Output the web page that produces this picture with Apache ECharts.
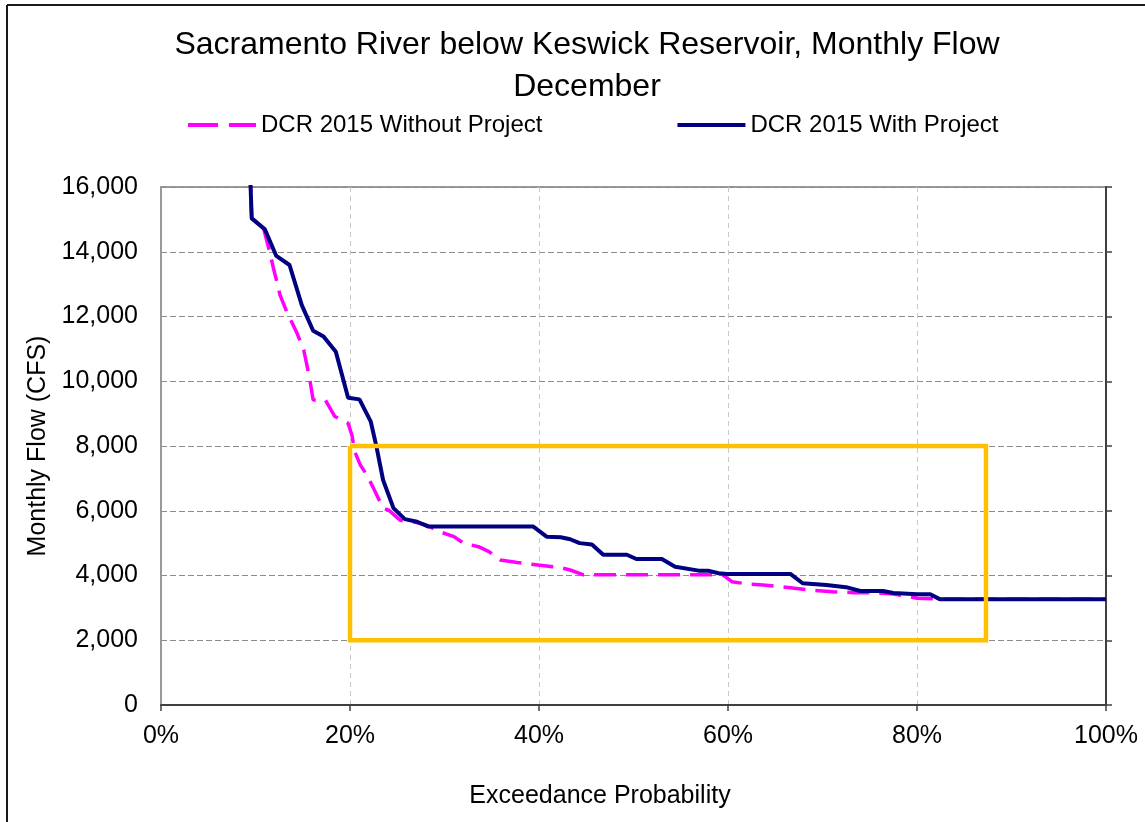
<!DOCTYPE html>
<html>
<head>
<meta charset="utf-8">
<script src="https://cdn.jsdelivr.net/npm/echarts@6/dist/echarts.min.js"></script>
<style>
  html, body { margin: 0; padding: 0; background: #fff; }
  #chart { width: 1145px; height: 822px; }
</style>
</head>
<body>
<div id="chart"></div>
<script>
// Exceedance probability (%) and monthly flow (CFS), December
const withoutProjectX = [9.3, 9.6, 10.8, 11.5, 11.9, 12.6, 13.3, 14.4, 15.1, 15.7, 16.1, 17.4, 18.4, 19.8, 20.2, 20.5, 21.1, 21.8, 22.5, 23.5, 24.1, 25.3, 26.7, 28.1, 29.5, 31.0, 32.0, 33.6, 34.7, 35.9, 37.7, 40.1, 42.2, 43.3, 44.7, 58.3, 59.5, 60.4, 62.0, 63.7, 66.6, 68.7, 71.1, 73.3, 75.4, 77.5, 80.0, 81.7, 82.4, 100];
const withoutProjectY = [17500, 15030, 14780, 14000, 13490, 12660, 12150, 11480, 10970, 10140, 9420, 9420, 8910, 8700, 8340, 7830, 7410, 7100, 6690, 6080, 6020, 5710, 5660, 5560, 5350, 5200, 5000, 4890, 4740, 4480, 4400, 4320, 4250, 4170, 4020, 4020, 4010, 3810, 3740, 3710, 3620, 3550, 3500, 3470, 3470, 3430, 3300, 3280, 3270, 3270];

const withProjectX = [9.3, 9.6, 11.0, 12.2, 13.6, 14.9, 16.1, 17.2, 18.5, 19.8, 21.0, 22.2, 22.8, 23.5, 24.6, 25.8, 27.1, 28.3, 39.4, 40.8, 42.3, 43.3, 44.3, 45.6, 46.8, 49.3, 50.3, 53.0, 54.4, 56.9, 57.9, 59.0, 59.9, 66.6, 67.9, 70.4, 72.5, 74.0, 76.4, 77.5, 80.0, 81.4, 82.4, 100];
const withProjectY = [17500, 15030, 14690, 13870, 13590, 12350, 11560, 11380, 10910, 9490, 9440, 8750, 7980, 6950, 6080, 5740, 5660, 5510, 5510, 5200, 5180, 5120, 5000, 4960, 4640, 4640, 4510, 4510, 4270, 4150, 4150, 4070, 4050, 4050, 3760, 3710, 3640, 3520, 3520, 3460, 3420, 3420, 3270, 3270];

// Highlight box: probability range and flow range
const boxX = [20, 87.3];
const boxY = [2000, 8000];

const xTicks = [0, 20, 40, 60, 80, 100];
const yTicks = [0, 2000, 4000, 6000, 8000, 10000, 12000, 14000, 16000];

const seriesNames = ['DCR 2015 Without Project', 'DCR 2015 With Project'];

const zip = (xs, ys) => xs.map((x, i) => [x, ys[i]]);
const boxPath = [
  [boxX[0], boxY[1]], [boxX[1], boxY[1]], [boxX[1], boxY[0]],
  [boxX[0], boxY[0]], [boxX[0], boxY[1]]
];

const FONT = '"Liberation Sans", Arial, sans-serif';
const chart = echarts.init(document.getElementById('chart'));

chart.setOption({
  backgroundColor: '#ffffff',
  animation: false,
  textStyle: { fontFamily: FONT, color: '#000' },
  title: {
    text: 'Sacramento River below Keswick Reservoir, Monthly Flow\nDecember',
    left: 582,
    textAlign: 'center',
    top: 19,
    textStyle: { fontFamily: FONT, fontSize: 32, fontWeight: 'normal', color: '#000', lineHeight: 42 }
  },
  legend: {
    left: 181,
    top: 108,
    itemWidth: 68,
    itemHeight: 14,
    itemGap: 133,
    itemStyle: { opacity: 0 },
    textStyle: { fontFamily: FONT, fontSize: 24, color: '#000' },
    data: [
      { name: seriesNames[0], lineStyle: { type: [30, 11], width: 4 } },
      { name: seriesNames[1], lineStyle: { width: 4 } }
    ]
  },
  grid: {
    left: 161, right: 39, top: 187, bottom: 117,
    show: true, borderColor: '#9a9a9a', borderWidth: 2
  },
  xAxis: {
    type: 'value',
    min: xTicks[0], max: xTicks[xTicks.length - 1], interval: 20,
    name: 'Exceedance Probability',
    nameLocation: 'middle',
    nameGap: 79,
    nameTextStyle: { fontFamily: FONT, fontSize: 25, color: '#000', padding: [0, 67, 0, 0] },
    axisLine: { show: true, lineStyle: { color: '#404040', width: 2 } },
    axisTick: { show: true, length: 6, lineStyle: { color: '#404040', width: 1.5 } },
    axisLabel: { fontFamily: FONT, fontSize: 25, color: '#000', margin: 19, formatter: '{value}%' },
    splitLine: { show: true, lineStyle: { color: '#c8c8c8', type: [5, 4], width: 1 } }
  },
  yAxis: [
    {
      type: 'value',
      min: yTicks[0], max: yTicks[yTicks.length - 1], interval: 2000,
      name: 'Monthly Flow (CFS)',
      nameLocation: 'middle',
      nameGap: 96,
      nameTextStyle: { fontFamily: FONT, fontSize: 25, color: '#000' },
      axisLine: { show: true, lineStyle: { color: '#9a9a9a', width: 2 } },
      axisTick: { show: false },
      axisLabel: {
        fontFamily: FONT, fontSize: 25, color: '#000', margin: 23,
        formatter: v => v.toLocaleString('en-US')
      },
      splitLine: { show: true, lineStyle: { color: '#8c8c8c', type: [6, 3], width: 1 } }
    },
    {
      type: 'value',
      position: 'right',
      min: yTicks[0], max: yTicks[yTicks.length - 1], interval: 2000,
      axisLine: { show: true, lineStyle: { color: '#404040', width: 2 } },
      axisTick: { show: true, length: 6, lineStyle: { color: '#404040', width: 1.5 } },
      axisLabel: { show: false },
      splitLine: { show: false }
    }
  ],
  series: [
    {
      name: seriesNames[0],
      type: 'line',
      data: zip(withoutProjectX, withoutProjectY),
      symbol: 'none',
      clip: true,
      z: 2,
      lineStyle: { color: '#ff00ff', width: 3.5, type: [22, 10] },
      itemStyle: { color: '#ff00ff' }
    },
    {
      name: seriesNames[1],
      type: 'line',
      data: zip(withProjectX, withProjectY),
      symbol: 'none',
      clip: true,
      z: 3,
      lineStyle: { color: '#000080', width: 4 },
      itemStyle: { color: '#000080' }
    },
    {
      name: 'box',
      type: 'line',
      data: boxPath,
      symbol: 'none',
      z: 4,
      silent: true,
      legendHoverLink: false,
      lineStyle: { color: '#ffc000', width: 4.5, join: 'miter' },
      itemStyle: { color: '#ffc000' }
    }
  ],
  graphic: [
    { type: 'line', shape: { x1: 7, y1: 5, x2: 1145, y2: 5 }, style: { stroke: '#1a1a1a', lineWidth: 2 } },
    { type: 'line', shape: { x1: 7, y1: 5, x2: 7, y2: 822 }, style: { stroke: '#1a1a1a', lineWidth: 2 } }
  ]
});
</script>
</body>
</html>
